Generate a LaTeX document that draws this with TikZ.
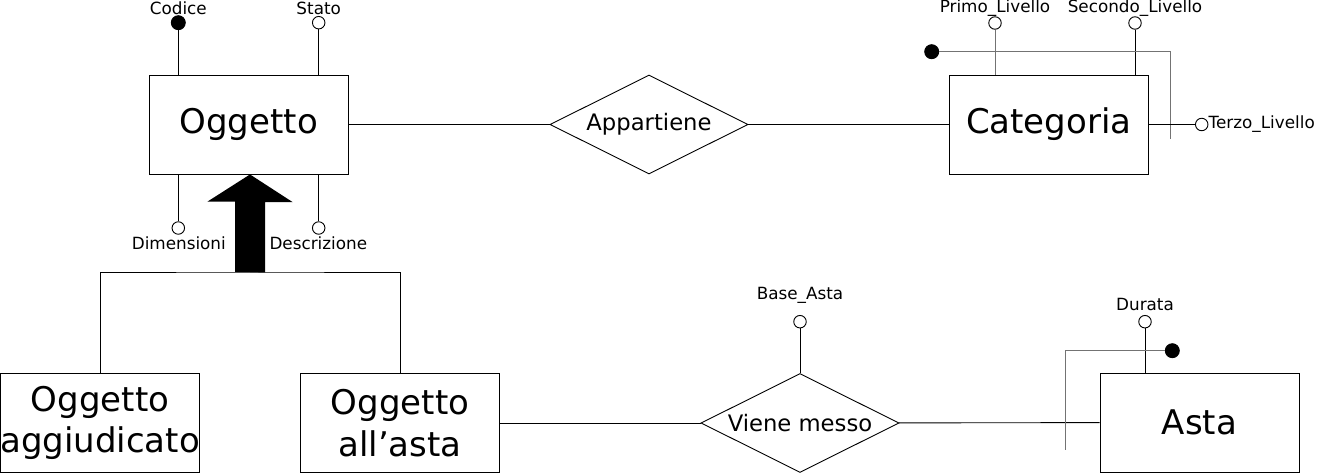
\documentclass[tikz,border=0pt]{standalone}
\usepackage{fontspec}
\setmainfont{DejaVu Sans}
\usetikzlibrary{shapes.geometric}
\definecolor{lgray}{RGB}{115,115,115}
\begin{document}
\begin{tikzpicture}[x=1pt,y=-1pt,
  ent/.style={draw, line width=0.9pt, minimum width=199pt, minimum height=99pt, inner sep=0pt, align=center, font=\fontsize{34}{41.5}\selectfont},
  rel/.style={draw, diamond, aspect=2, line width=0.9pt, minimum width=198pt, minimum height=99pt, inner sep=0pt, font=\fontsize{22.7}{26}\selectfont},
  attr/.style={circle, draw, fill=white, line width=0.9pt, minimum size=12.5pt, inner sep=0pt},
  keyattr/.style={circle, draw, fill=black, line width=0.9pt, minimum size=14pt, inner sep=0pt},
  lab/.style={inner sep=0pt, font=\fontsize{16.8}{19}\selectfont},
  conn/.style={line width=0.9pt},
  gconn/.style={line width=1pt, draw=lgray}]
\useasboundingbox (0,0) rectangle (1318,473);

% entities and relationships
\node[ent] (ogg) at (248.8,124.5) {Oggetto};
\node[ent] (cat) at (1048.8,124.5) {Categoria};
\node[ent] (agg) at (100,423) {Oggetto\\aggiudicato};
\node[ent] (all) at (400,423) {Oggetto\\all’asta};
\node[ent] (asta) at (1199.5,422.5) {Asta};
\node[rel] (app) at (649,124.5) {Appartiene};
\node[rel] (vm) at (800,423) {Viene messo};

\draw[conn] (ogg) -- (app);
\draw[conn] (app) -- (cat);
\draw[conn] (all) -- (vm);
\draw[conn] (vm) -- (asta);

% Oggetto attributes
\node[keyattr] (cod) at (178.3,22.7) {};
\node[lab] (codlab) at (178.3,8) {Codice};
\draw[conn] (cod) -- (cod |- ogg.north);
\node[attr] (sta) at (318.7,22.7) {};
\node[lab] (stalab) at (318.7,8) {Stato};
\draw[conn] (sta) -- (sta |- ogg.north);
\node[attr] (dim) at (178.3,228) {};
\node[lab] (dimlab) at (178.8,243) {Dimensioni};
\draw[conn] (dim) -- (dim |- ogg.south);
\node[attr] (des) at (318.7,228) {};
\node[lab] (deslab) at (318.3,243) {Descrizione};
\draw[conn] (des) -- (des |- ogg.south);

% Categoria attributes
\node[attr] (pri) at (995,23) {};
\node[lab] (prilab) at (995,8) {Primo\_Livello};
\draw[gconn] (pri) -- (pri |- cat.north);
\node[attr] (sec) at (1135,23) {};
\node[lab] (seclab) at (1135,8) {Secondo\_Livello};
\draw[conn] (sec) -- (sec |- cat.north);
\node[keyattr] (catid) at (931.7,51.7) {};
\coordinate (catc) at (1170.7,51.7);
\coordinate (cate) at (1170.7,139.3);
\draw[gconn] (catid) -- (catc) -- (cate);
\node[attr] (ter) at (1201.7,124.5) {};
\node[lab, anchor=west] (terlab) at (1208.5,124.5) {Terzo\_Livello};
\draw[conn] (cat) -- (ter);

% Viene messo attribute
\node[attr] (bas) at (800,321.7) {};
\node[lab] (baslab) at (800,295) {Base\_Asta};
\draw[conn] (bas) -- (vm.north);

% Asta attributes
\node[attr] (dur) at (1145,321.7) {};
\node[lab] (durlab) at (1145,304) {Durata};
\draw[conn] (dur) -- (dur |- asta.north);
\node[keyattr] (astaid) at (1172.3,350.7) {};
\coordinate (astac) at (1065.7,350.7);
\coordinate (astae) at (1065.7,450);
\draw[gconn] (astaid) -- (astac) -- (astae);

% generalization
\coordinate (gj) at (250,272);
\draw[conn] (agg.north) |- (gj) -| (all.north);
\fill (gj) -- ++(-15,0) -- ++(0,-70.3) -- ++(-27.7,0) -- (gj |- ogg.south) -- ++(42.7,27.7) -- ++(-27.7,0) -- ++(0,70.3) -- cycle;
\end{tikzpicture}
\end{document}
